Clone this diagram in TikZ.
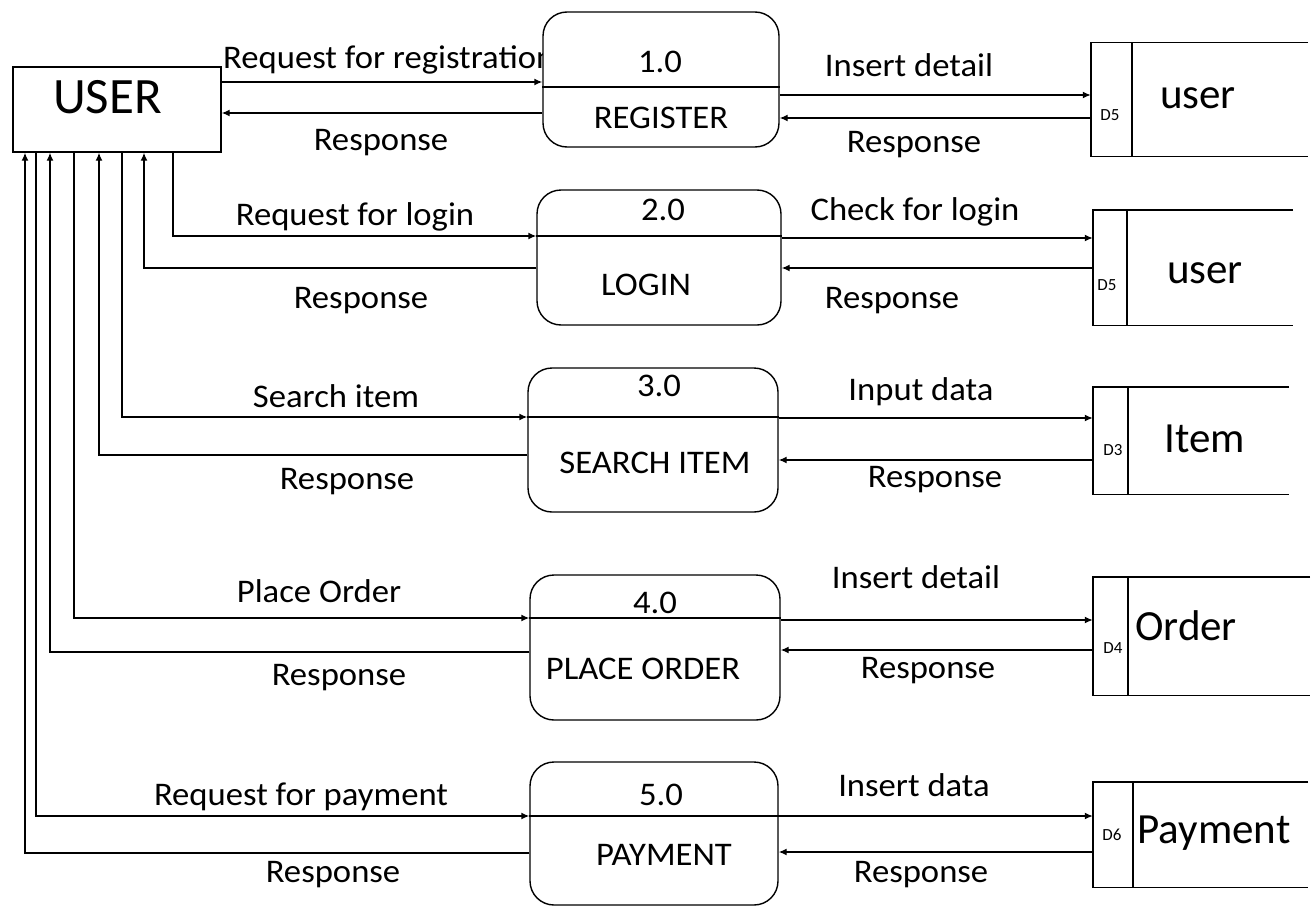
\documentclass[tikz,border=0pt]{standalone}
\usepackage{fontspec}
\setmainfont{Carlito}
\newfontfamily\lblfont{Carlito}[FakeStretch=1.05]
\usetikzlibrary{arrows.meta}
\tikzset{
  proc/.style={draw, line width=1.4pt, rounded corners=24pt, fill=white, inner sep=0pt},
  storebox/.style={inner sep=0pt},
  flow/.style={line width=1.4pt, -{Latex[length=8pt,width=7pt]}},
  wire/.style={line width=1.4pt},
  lbl/.style={inner sep=0pt, anchor=base, font=\lblfont\fontsize{33}{38}\selectfont},
  storelbl/.style={inner sep=0pt, anchor=base, font=\fontsize{43}{48}\selectfont},
  dlbl/.style={inner sep=0pt, anchor=base, font=\fontsize{17}{20}\selectfont},
}
\begin{document}
\begin{tikzpicture}[x=1pt,y=-1pt]
    \useasboundingbox (0,0) rectangle (1316,907);
    % flow labels
    \node[lbl, anchor=base west] (l1a) at (223,68) {Request for registration};
    \node[lbl] (l1b) at (381,150) {Response};
    \node[lbl] (l1c) at (909,76) {Insert detail};
    \node[lbl] (l1d) at (914,152) {Response};
    \node[lbl] (l2a) at (355,225) {Request for login};
    \node[lbl] (l2b) at (361,308) {Response};
    \node[lbl] (l2c) at (915,220) {Check for login};
    \node[lbl] (l2d) at (892,308) {Response};
    \node[lbl] (l3a) at (336,407) {Search item};
    \node[lbl] (l3b) at (347,489) {Response};
    \node[lbl] (l3c) at (921,400) {Input data};
    \node[lbl] (l3d) at (935,487) {Response};
    \node[lbl] (l4a) at (319,602) {Place Order};
    \node[lbl] (l4b) at (339,685) {Response};
    \node[lbl] (l4c) at (916,588) {Insert detail};
    \node[lbl] (l4d) at (928,678) {Response};
    \node[lbl] (l5a) at (301,805) {Request for payment};
    \node[lbl] (l5b) at (333,882) {Response};
    \node[lbl] (l5c) at (914,796) {Insert data};
    \node[lbl] (l5d) at (921,882) {Response};

    % external entity
    \node[draw, line width=1.4pt, minimum width=208, minimum height=85, inner sep=0pt] (user) at (117,109.5) {};
    \node[inner sep=0pt, anchor=base, font=\fontsize{51}{56}\selectfont] (usertxt) at (107.5,113) {USER};

    % processes
    \node[proc, minimum width=236, minimum height=135] (p1) at (661,79.5) {};
    \node[proc, minimum width=244, minimum height=135] (p2) at (659,257.5) {};
    \node[proc, minimum width=250, minimum height=144] (p3) at (653,440) {};
    \node[proc, minimum width=250, minimum height=145] (p4) at (655,647.5) {};
    \node[proc, minimum width=248, minimum height=143] (p5) at (654,833.5) {};
    \draw[wire] (p1.west |- 0,87) -- (p1.east |- 0,87);
    \draw[wire] (p2.west |- 0,236) -- (p2.east |- 0,236);
    \draw[wire] (p3.west |- 0,417) -- (p3.east |- 0,417);
    \draw[wire] (p4.west |- 0,618) -- (p4.east |- 0,618);
    \draw[wire] (p5.west |- 0,816) -- (p5.east |- 0,816);
    \node[lbl] (n1) at (660,73) {1.0};
    \node[lbl] (t1) at (661,128) {REGISTER};
    \node[lbl] (n2) at (663,220) {2.0};
    \node[lbl] (t2) at (646,295) {LOGIN};
    \node[lbl] (n3) at (659,396) {3.0};
    \node[lbl] (t3) at (655,473) {SEARCH ITEM};
    \node[lbl] (n4) at (655,613) {4.0};
    \node[lbl] (t4) at (643,679) {PLACE ORDER};
    \node[lbl] (n5) at (661,805) {5.0};
    \node[lbl] (t5) at (664,865) {PAYMENT};

    % data stores
    \node[storebox, minimum width=217, minimum height=113] (s1) at (1199.5,99.5) {};
    \node[storebox, minimum width=200, minimum height=115] (s2) at (1193,267.5) {};
    \node[storebox, minimum width=196, minimum height=107] (s3) at (1191,440.5) {};
    \node[storebox, minimum width=217, minimum height=118] (s4) at (1201.5,636) {};
    \node[storebox, minimum width=215, minimum height=105] (s5) at (1200.5,834.5) {};
    \foreach \s/\w in {s1/41, s2/34, s3/35, s4/35, s5/40} {
      \draw[wire] (\s.north east) -- (\s.north west) -- (\s.south west) -- (\s.south east);
      \draw[wire] ([xshift=\w pt]\s.north west) -- ([xshift=\w pt]\s.south west);
    }
    \node[storelbl] (u1) at (1198,108) {user};
    \node[storelbl] (u2) at (1205,283) {user};
    \node[storelbl] (u3) at (1205,452) {Item};
    \node[storelbl] (u4) at (1186,640) {Order};
    \node[storelbl] (u5) at (1214,843) {Payment};
    \node[dlbl] (d1) at (1110,120) {D5};
    \node[dlbl] (d2) at (1107,290) {D5};
    \node[dlbl] (d3) at (1113,455) {D3};
    \node[dlbl] (d4) at (1113,653) {D4};
    \node[dlbl] (d5) at (1112,840) {D6};

    % 1.0
    \draw[flow] (user.east |- 0,82) -- (p1.west |- 0,82);
    \draw[flow] (p1.west |- 0,113) -- (user.east |- 0,113);
    \draw[flow] (p1.east |- 0,95) -- (s1.west |- 0,95);
    \draw[flow] (s1.west |- 0,118) -- (p1.east |- 0,118);
    % 2.0
    \draw[flow] (user.south -| 173,0) |- (p2.west |- 0,236);
    \draw[flow] (p2.west |- 0,268) -| (user.south -| 144,0);
    \draw[flow] (p2.east |- 0,238) -- (s2.west |- 0,238);
    \draw[flow] (s2.west |- 0,268) -- (p2.east |- 0,268);
    % 3.0
    \draw[flow] (user.south -| 122,0) |- (p3.west |- 0,417);
    \draw[flow] (p3.west |- 0,455) -| (user.south -| 99,0);
    \draw[flow] (p3.east |- 0,418) -- (s3.west |- 0,418);
    \draw[flow] (s3.west |- 0,460) -- (p3.east |- 0,460);
    % 4.0
    \draw[flow] (user.south -| 74,0) |- (p4.west |- 0,618);
    \draw[flow] (p4.west |- 0,652) -| (user.south -| 50,0);
    \draw[flow] (p4.east |- 0,620) -- (s4.west |- 0,620);
    \draw[flow] (s4.west |- 0,650) -- (p4.east |- 0,650);
    % 5.0
    \draw[flow] (user.south -| 36,0) |- (p5.west |- 0,816);
    \draw[flow] (p5.west |- 0,853) -| (user.south -| 25,0);
    \draw[flow] (p5.east |- 0,816) -- (s5.west |- 0,816);
    \draw[flow] (s5.west |- 0,852) -- (p5.east |- 0,852);
\end{tikzpicture}
\end{document}
